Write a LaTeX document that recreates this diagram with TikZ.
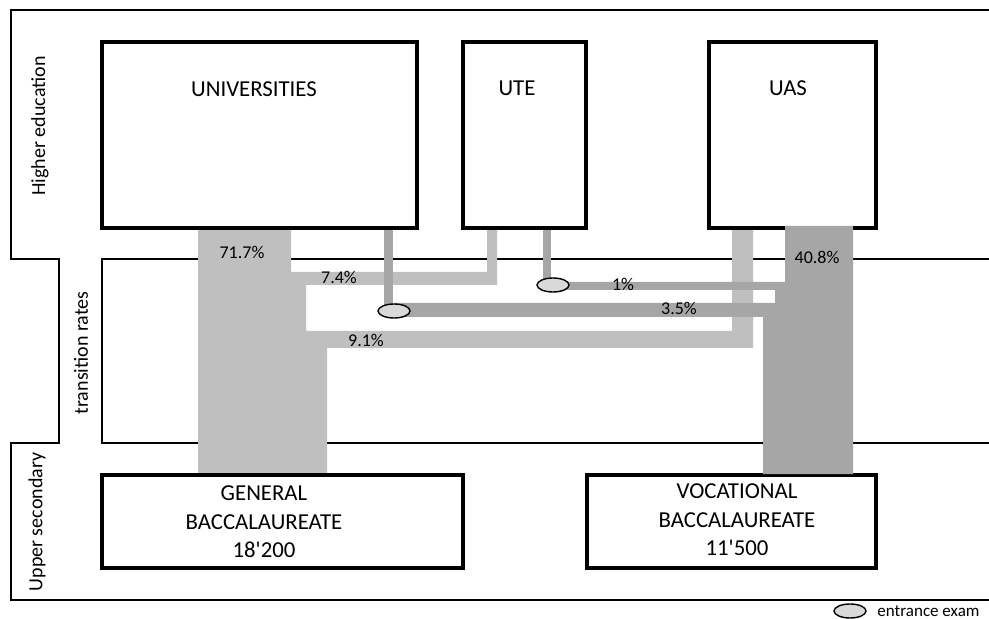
\documentclass[tikz,border=0pt]{standalone}
\usepackage{fontspec}
\setmainfont{Carlito}
\usetikzlibrary{shapes.geometric,fit}
\definecolor{flowlight}{HTML}{BFBFBF}
\definecolor{flowdark}{HTML}{A6A6A6}
\definecolor{examfill}{HTML}{D9D9D9}
\tikzset{
  frame/.style={line width=1pt},
  inst/.style={draw,line width=1.7pt,inner sep=0pt},
  instname/.style={font=\fontsize{11.4}{14.25}\selectfont,align=center},
  pct/.style={font=\fontsize{9}{11}\selectfont},
  level/.style={rotate=90,font=\fontsize{10}{12}\selectfont},
  exam/.style={ellipse,draw,fill=examfill,line width=.7pt,minimum width=16pt,minimum height=7pt,inner sep=0pt}
}

\begin{document}
\begin{tikzpicture}[x=.5pt,y=-.5pt]
  \useasboundingbox (0,0) rectangle (989,619);
  % levels
  \draw[frame] (989,10)--(11,10)--(11,259)--(59,259)--(59,443)--(11,443)--(11,600)--(989,600);
  \draw[frame] (989,259)--(102,259)--(102,443)--(989,443);
  \node[level] (he) at (40,126) {Higher education};
  \node[level] (tr) at (81,353) {transition rates};
  \node[level] (us) at (37,522) {Upper secondary};
  % general baccalaureate flows
  \fill[flowlight] (198,474)--(198,228)--(291,228)--(291,272)--(487,272)--(487,228)--(497,228)--(497,285)
    --(306,285)--(306,331)--(732,331)--(732,228)--(753,228)--(753,348)--(327,348)--(327,474)--cycle;
  % institutions
  \node[inst,fit={(102,42)(417,228)}] (uni) {};
  \node[inst,fit={(463,42)(586,228)}] (ute) {};
  \node[inst,fit={(709,42)(876,228)}] (uas) {};
  \node[inst,fit={(102,475)(463,568)}] (gen) {};
  \node[inst,fit={(587,475)(876,568)}] (voc) {};
  \node[instname] (unitext) at (254,89) {UNIVERSITIES};
  \node[instname] (utetext) at (517,88) {UTE};
  \node[instname] (uastext) at (788,88) {UAS};
  \node[instname] (gentext) at (264,522) {GENERAL\\BACCALAUREATE\\18\textquotesingle 200};
  \node[instname] (voctext) at (737,520) {VOCATIONAL\\BACCALAUREATE\\11\textquotesingle 500};
  % vocational baccalaureate flows
  \fill[flowdark] (853,474)--(853,226)--(785,226)--(785,282)--(553,282)--(553,290)--(775,290)--(775,303)
    --(394,303)--(394,317)--(763,317)--(763,474)--cycle;
  \fill[flowdark] (384,230) rectangle (393,311);
  \fill[flowdark] (543,230) rectangle (551,285);
  \node[exam] (exuni) at (394,311) {};
  \node[exam] (exute) at (553,285) {};
  % rates
  \node[pct] (r717) at (242,252) {71.7\%};
  \node[pct] (r74) at (339,277) {7.4\%};
  \node[pct] (r91) at (366,340) {9.1\%};
  \node[pct] (r1) at (623,284) {1\%};
  \node[pct] (r35) at (679,308) {3.5\%};
  \node[pct] (r408) at (817,257) {40.8\%};
  % legend
  \node[exam] (exkey) at (850,611) {};
  \node[anchor=west,inner sep=0pt,font=\fontsize{8.5}{10}\selectfont] (exkeytext) at (877,611) {entrance exam};
\end{tikzpicture}
\end{document}
